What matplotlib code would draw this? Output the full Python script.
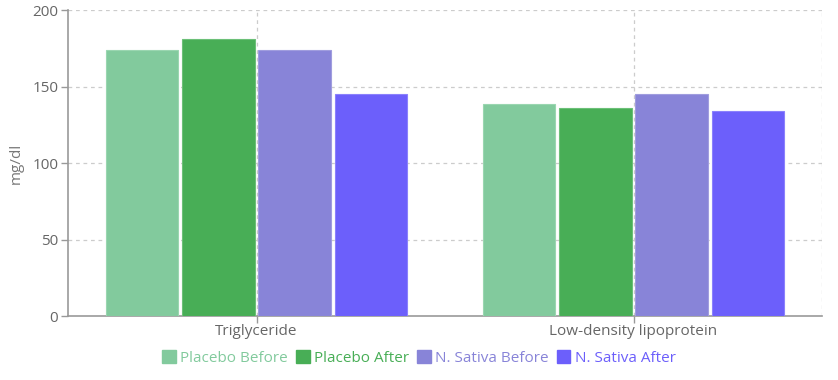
import numpy as np
import matplotlib
matplotlib.use("Agg")
import matplotlib.pyplot as plt
from matplotlib.patches import Rectangle

plt.rcParams["font.family"] = ["Open Sans", "DejaVu Sans"]

categories = ["Triglyceride", "Low-density lipoprotein"]
series = ["Placebo Before", "Placebo After", "N. Sativa Before", "N. Sativa After"]
placebo_before = [174, 138.6]
placebo_after = [181, 136]
sativa_before = [174, 145]
sativa_after = [145, 134]
values = [placebo_before, placebo_after, sativa_before, sativa_after]
colors = ["#82ca9d", "#48ae56", "#8884d8", "#6c5ffb"]
edges = ["#9ad6b0", "#6cc078", "#a09dde", "#8b81fc"]

W, H = 838, 380
fig = plt.figure(figsize=(W / 100, H / 100), dpi=100)
ax = fig.add_axes([68 / W, (H - 316) / H, (822 - 68) / W, (316 - 10) / H])

gap = 0.01
bw = (0.8 - 3 * gap) / 4
x = np.arange(len(categories))
for i, (vals, c, ec) in enumerate(zip(values, colors, edges)):
    off = -0.4 + bw / 2 + i * (bw + gap)
    ax.bar(x + off, vals, width=bw, color=c, edgecolor=ec, linewidth=0.8, zorder=3)

ax.set_xlim(-0.5, 1.5)
ax.set_ylim(0, 200)
ax.set_yticks([0, 50, 100, 150, 200])
ax.set_xticks(x)
ax.set_xticklabels(categories)

grid = dict(color="#cccccc", lw=0.9, ls=(0, (3, 3)), zorder=1)
for yv in [50, 100, 150, 200]:
    ax.axhline(yv, **grid)
for xv in list(x) + [1.5]:
    ax.axvline(xv, **grid)

for s in ["top", "right"]:
    ax.spines[s].set_visible(False)
for s in ["left", "bottom"]:
    ax.spines[s].set_color("#999999")
    ax.spines[s].set_linewidth(1.2)
ax.tick_params(axis="both", colors="#999999", length=5, width=1, labelsize=11,
               labelcolor="#666666")
ax.tick_params(axis="x", pad=1)
ax.tick_params(axis="y", pad=2)
ax.set_ylabel("mg/dl", color="#777777", fontsize=11, labelpad=6)

handles = [Rectangle((0, 0), 1, 1, color=c) for c in colors]
leg = fig.legend(handles, series, loc="center", bbox_to_anchor=(0.5, (H - 358) / H),
                 ncol=4, frameon=False, fontsize=11, handlelength=0.9, handleheight=0.9,
                 handletextpad=0.3, columnspacing=0.5)
for t, c in zip(leg.get_texts(), colors):
    t.set_color(c)

fig.savefig("out.png", dpi=100)
